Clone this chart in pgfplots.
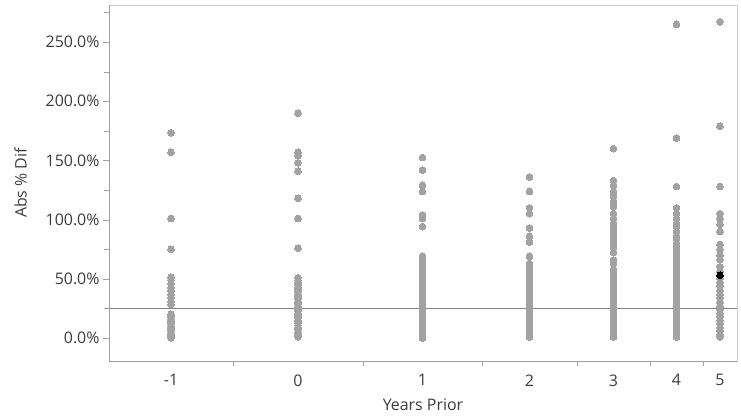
\documentclass[border=0pt]{standalone}
\usepackage{pgfplots}
\pgfplotsset{compat=1.18}
\usepackage{fontspec}
\setmainfont{Open Sans}
\definecolor{dotgray}{RGB}{162,162,162}
\definecolor{txt}{RGB}{60,60,60}
\definecolor{axgray}{RGB}{160,160,160}
\definecolor{boxgray}{RGB}{205,205,205}
\definecolor{refline}{RGB}{130,130,130}
\begin{document}
\begin{tikzpicture}[x=1bp,y=1bp]
\begin{axis}[
  at={(0,0)}, anchor=south west,
  scale only axis, width=628bp, height=356bp,
  xmin=0, xmax=628, ymin=-19.4, ymax=281.3,
  axis line style={draw=boxgray, line width=0.8pt},
  xtick={62,189,313.5,420.5,504.5,567.5,611},
  xticklabels={-1,0,1,2,3,4,5},
  minor xtick={124,254,373,468,541,594},
  ytick={0,50,100,150,200,250},
  yticklabels={0.0\%,50.0\%,100.0\%,150.0\%,200.0\%,250.0\%},
  minor ytick={25,75,125,175,225,275},
  xtick pos=bottom, ytick pos=left,
  tick align=outside,
  major tick length=6bp, minor tick length=4.5bp,
  major x tick style={draw=none},
  minor x tick style={draw=axgray},
  y tick style={draw=axgray},
  tick label style={font=\fontsize{16}{19}\selectfont, text=txt},
  xticklabel style={yshift=-4bp},
  xlabel={Years Prior}, ylabel={Abs \% Dif},
  label style={font=\fontsize{16}{19}\selectfont, text=txt},
  xlabel style={yshift=-6bp},
  ylabel style={yshift=12bp},
  clip=false,
]
\draw[refline, line width=1pt] (axis cs:0,24.6) -- (axis cs:628,24.6);
\draw[axgray, line width=0.9pt] (axis cs:0,-19.4) -- (axis cs:0,281.3);
\draw[axgray, line width=0.9pt] (axis cs:0,-19.4) -- (axis cs:628,-19.4);
\addplot[only marks, mark=*, mark size=3.4bp, color=dotgray, mark options={draw=dotgray, fill=dotgray, line width=0pt}] coordinates {
(62,173.5) (62,157) (62,101) (62,75) (62,51.5) (62,49) (62,46) (62,43) (62,40) (62,37) (62,34) (62,31) (62,28.5)
(62,20) (62,18) (62,16) (62,14) (62,12) (62,10) (62,8) (62,6) (62,4) (62,2.5) (62,1) (62,0.3)
(189,190) (189,157) (189,154) (189,148) (189,141) (189,118) (189,101) (189,76) (189,51) (189,49) (189,47) (189,45) (189,43) (189,41) (189,39) (189,37) (189,35) (189,33) (189,31) (189,29) (189,27) (189,25) (189,23) (189,21) (189,19) (189,17) (189,15) (189,13) (189,11) (189,9) (189,7) (189,5) (189,3) (189,1)
(313.5,152.5) (313.5,142) (313.5,129) (313.5,124) (313.5,104) (313.5,101) (313.5,94) (313.5,69) (313.5,66)
(313.5,64) (313.5,62) (313.5,60) (313.5,58) (313.5,56) (313.5,54) (313.5,52) (313.5,50) (313.5,48) (313.5,46) (313.5,44) (313.5,42) (313.5,40) (313.5,38) (313.5,36) (313.5,34) (313.5,32) (313.5,30) (313.5,28) (313.5,26) (313.5,24) (313.5,22) (313.5,20) (313.5,18) (313.5,16) (313.5,14) (313.5,12) (313.5,10) (313.5,8) (313.5,6) (313.5,4) (313.5,2) (313.5,0)
(420.5,136) (420.5,124) (420.5,110) (420.5,105) (420.5,93) (420.5,86) (420.5,81) (420.5,69)
(420.5,63) (420.5,61) (420.5,59) (420.5,57) (420.5,55) (420.5,53) (420.5,51) (420.5,49) (420.5,47) (420.5,45) (420.5,43) (420.5,41) (420.5,39) (420.5,37) (420.5,35) (420.5,33) (420.5,31) (420.5,29) (420.5,27) (420.5,25) (420.5,23) (420.5,21) (420.5,19) (420.5,17) (420.5,15) (420.5,13) (420.5,11) (420.5,9) (420.5,7) (420.5,5) (420.5,3) (420.5,1)
(504.5,160) (504.5,133) (504.5,129) (504.5,124) (504.5,120) (504.5,115) (504.5,111) (504.5,105) (504.5,101) (504.5,97) (504.5,94) (504.5,91) (504.5,88) (504.5,85) (504.5,83) (504.5,80) (504.5,77) (504.5,72) (504.5,66) (504.5,63) (504.5,58) (504.5,55) (504.5,52)
(504.5,49) (504.5,47) (504.5,45) (504.5,43) (504.5,41) (504.5,39) (504.5,37) (504.5,35) (504.5,33) (504.5,31) (504.5,29) (504.5,27) (504.5,25) (504.5,23) (504.5,21) (504.5,19) (504.5,17) (504.5,15) (504.5,13) (504.5,11) (504.5,9) (504.5,7) (504.5,5) (504.5,3) (504.5,1)
(567.5,265) (567.5,169) (567.5,128) (567.5,110) (567.5,105) (567.5,101) (567.5,97) (567.5,94) (567.5,90) (567.5,86) (567.5,84) (567.5,80) (567.5,77)
(567.5,75) (567.5,73) (567.5,71) (567.5,69) (567.5,67) (567.5,65) (567.5,63) (567.5,61) (567.5,59) (567.5,57) (567.5,55) (567.5,53) (567.5,51) (567.5,49) (567.5,47) (567.5,45) (567.5,43) (567.5,41) (567.5,39) (567.5,37) (567.5,35) (567.5,33) (567.5,31) (567.5,29) (567.5,27) (567.5,25) (567.5,23) (567.5,21) (567.5,19) (567.5,17) (567.5,15) (567.5,13) (567.5,11) (567.5,9) (567.5,7) (567.5,5) (567.5,3) (567.5,1)
(611,267) (611,179) (611,128) (611,105) (611,101) (611,96) (611,90) (611,79) (611,75) (611,70) (611,66) (611,60) (611,56)
(611,50) (611,47) (611,44) (611,40) (611,37) (611,34) (611,30) (611,27) (611,24) (611,21) (611,18) (611,15) (611,12) (611,9) (611,6) (611,3) (611,1)
};
\addplot[only marks, mark=*, mark size=3.4bp, color=black, mark options={draw=black, fill=black, line width=0pt}] coordinates {(611,53)};
\end{axis}
\pgfresetboundingbox
\path[use as bounding box] (-109bp,-55bp) rectangle (632bp,361bp);
\end{tikzpicture}
\end{document}
